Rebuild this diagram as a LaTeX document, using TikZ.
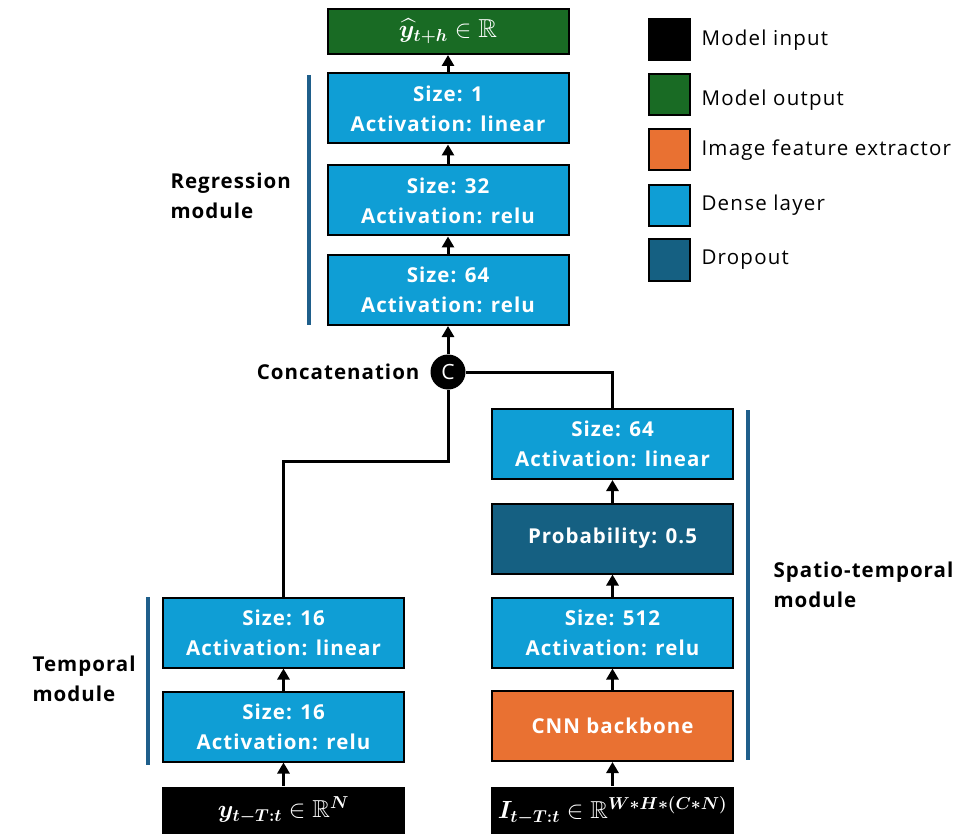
\documentclass[tikz,border=0pt]{standalone}
\usepackage{amsmath,amssymb}
\usepackage[no-math]{fontspec}
\setmainfont[LetterSpace=5]{Open Sans}
\newfontfamily\legfont[LetterSpace=6]{Open Sans}
\usetikzlibrary{arrows.meta}
\definecolor{dense}{HTML}{0F9ED5}
\definecolor{drop}{HTML}{156082}
\definecolor{cnn}{HTML}{E97132}
\definecolor{outg}{HTML}{196B24}
\definecolor{barc}{HTML}{1F5F8B}
\tikzset{
  layer/.style={draw=black, line width=2pt, minimum width=241pt, minimum height=70pt, inner sep=0pt, text=white, align=center, font=\fontsize{20.5}{30}\selectfont\bfseries},
  denseL/.style={layer, fill=dense},
  dropL/.style={layer, fill=drop},
  cnnL/.style={layer, fill=cnn},
  outL/.style={layer, fill=outg, minimum height=45pt, font=\fontsize{26}{30}\selectfont},
  inL/.style={layer, draw=none, fill=black, minimum width=243pt, minimum height=48pt, font=\fontsize{24.5}{28}\selectfont},
  flow/.style={line width=3pt, -{Triangle[width=12pt,length=11pt]}},
  wire/.style={line width=3pt},
  modbar/.style={line width=3.5pt, draw=barc},
  modtext/.style={anchor=west, align=left, font=\fontsize{20.5}{30}\selectfont\bfseries},
  legbox/.style={draw=black, line width=2pt, minimum width=41pt, minimum height=41pt, inner sep=0pt},
  legtext/.style={anchor=west, font=\fontsize{20.5}{24}\selectfont\legfont},
}
\begin{document}
\begin{tikzpicture}[x=1pt,y=-1pt]
\useasboundingbox (0,0) rectangle (971,834);
% regression column
\node[outL] (out) at (448,31.5) {\(\boldsymbol{\widehat{y}_{t+h}}\in\mathbb{R}\)};
\node[denseL] (r1) at (448,108.5) {Size: 1\\Activation: linear};
\node[denseL] (r2) at (448,200.5) {Size: 32\\Activation: relu};
\node[denseL] (r3) at (448,290) {Size: 64\\Activation: relu};
\node[circle, fill=black, minimum size=35pt, inner sep=0pt, text=white, font=\fontsize{21}{24}\selectfont] (cc) at (448,372) {C};
\node[anchor=east, font=\fontsize{20.5}{24}\selectfont\bfseries] (cclab) at (423,372) {Concatenation};
% temporal column
\node[denseL] (t2) at (283.5,632.5) {Size: 16\\Activation: linear};
\node[denseL] (t1) at (283.5,726.5) {Size: 16\\Activation: relu};
\node[inL] (tin) at (283.5,810.5) {\(\boldsymbol{y_{t-T:t}}\in\mathbb{R}^{\boldsymbol{N}}\)};
% spatio-temporal column
\node[denseL] (s4) at (612.5,444) {Size: 64\\Activation: linear};
\node[dropL] (s3) at (612.5,538.5) {Probability: 0.5};
\node[denseL] (s2) at (612.5,632.5) {Size: 512\\Activation: relu};
\node[cnnL] (s1) at (612.5,726) {CNN backbone};
\node[inL] (sin) at (612.5,810.5) {\(\boldsymbol{I_{t-T:t}}\in\mathbb{R}^{\boldsymbol{W*H*(C*N)}}\)};
% arrows
\draw[flow] (r1) -- (out);
\draw[flow] (r2) -- (r1);
\draw[flow] (r3) -- (r2);
\draw[flow] (cc) -- (r3);
\draw[flow] (t1) -- (t2);
\draw[flow] (tin) -- (t1);
\draw[flow] (s3) -- (s4);
\draw[flow] (s2) -- (s3);
\draw[flow] (s1) -- (s2);
\draw[flow] (sin) -- (s1);
\coordinate (jt) at (283.5,461);
\draw[wire] (t2.north) -- (jt) -| (cc.south);
\draw[wire] (s4.north) |- (cc.east);
% module bars and labels
\draw[modbar] (309,75) -- (309,325);
\node[modtext] (lreg) at (167,196) {Regression\\module};
\draw[modbar] (148,597) -- (148,765);
\node[modtext] (ltem) at (29,678.5) {Temporal\\module};
\draw[modbar] (748,410) -- (748,760);
\node[modtext] (lspa) at (770,585) {Spatio-temporal\\module};
% legend
\node[legbox, fill=black] (k1) at (669,39.5) {};
\node[legbox, fill=outg] (k2) at (669,94.5) {};
\node[legbox, fill=cnn] (k3) at (669,150) {};
\node[legbox, fill=dense] (k4) at (669,205.5) {};
\node[legbox, fill=drop] (k5) at (669,260) {};
\node[legtext] (kt1) at (698,40) {Model input};
\node[legtext] (kt2) at (698,100) {Model output};
\node[legtext] (kt3) at (698,150) {Image feature extractor};
\node[legtext] (kt4) at (698,205) {Dense layer};
\node[legtext] (kt5) at (698,260) {Dropout};
\end{tikzpicture}
\end{document}
